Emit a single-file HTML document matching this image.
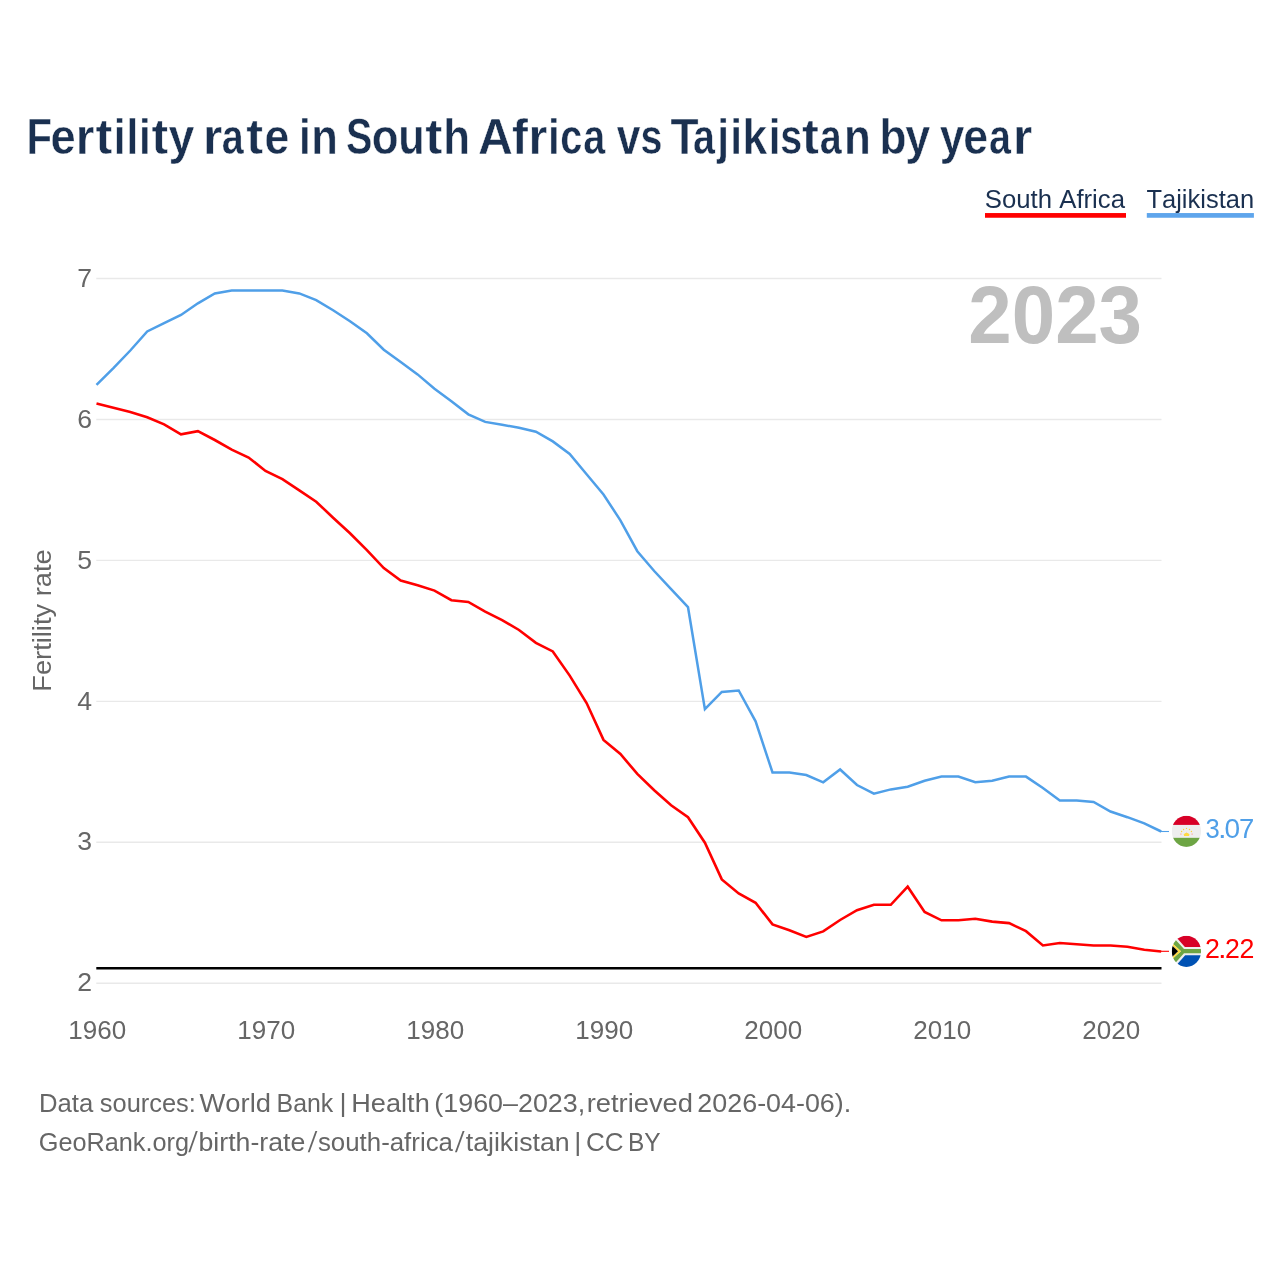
<!DOCTYPE html>
<html lang="en"><head><meta charset="utf-8"><title>Fertility rate in South Africa vs Tajikistan by year</title>
<style>html,body{margin:0;padding:0;background:#fff}body{width:1280px;height:1280px;overflow:hidden;font-family:"Liberation Sans",sans-serif}svg{display:block;will-change:transform}text{font-family:"Liberation Sans",sans-serif;font-kerning:none;font-variant-ligatures:none}</style></head><body>
<svg width="1280" height="1280" viewBox="0 0 1280 1280">
<rect width="1280" height="1280" fill="#ffffff"/>
<g stroke="#e9e9e9" stroke-width="1.4" fill="none">
<line x1="96.3" x2="1161.5" y1="278.5" y2="278.5"/>
<line x1="96.3" x2="1161.5" y1="419.5" y2="419.5"/>
<line x1="96.3" x2="1161.5" y1="560.4" y2="560.4"/>
<line x1="96.3" x2="1161.5" y1="701.4" y2="701.4"/>
<line x1="96.3" x2="1161.5" y1="842.3" y2="842.3"/>
<line x1="96.3" x2="1161.5" y1="983.2" y2="983.2"/>
</g>
<g font-size="26.6" fill="#666666" text-anchor="end">
<text x="92" y="286.6">7</text>
<text x="92" y="427.6">6</text>
<text x="92" y="568.5">5</text>
<text x="92" y="709.5">4</text>
<text x="92" y="850.4">3</text>
<text x="92" y="991.3">2</text>
</g>
<g font-size="26" fill="#666666" text-anchor="middle">
<text x="97.2" y="1039.0">1960</text>
<text x="266.2" y="1039.0">1970</text>
<text x="435.2" y="1039.0">1980</text>
<text x="604.2" y="1039.0">1990</text>
<text x="773.2" y="1039.0">2000</text>
<text x="942.2" y="1039.0">2010</text>
<text x="1111.2" y="1039.0">2020</text>
</g>
<text transform="translate(51.2,691.74) rotate(-90) scale(1.0331,1)" font-size="26.4" fill="#666666">Fertility rate</text>
<line x1="96.3" x2="1161.5" y1="968.2" y2="968.2" stroke="#000" stroke-width="2.6"/>
<polyline points="96.5,384.8 113.4,368.1 130.3,350.5 147.2,331.4 164.1,323.1 181.0,315.0 197.9,303.3 214.8,293.4 231.7,290.5 248.6,290.5 265.5,290.5 282.4,290.5 299.3,293.4 316.2,300.2 333.1,310.3 350.0,321.2 366.9,333.3 383.8,349.7 400.7,361.9 417.6,374.4 434.5,388.8 451.4,401.2 468.3,414.3 485.2,421.9 502.1,424.7 519.0,427.8 535.9,431.7 552.8,441.4 569.7,453.9 586.6,474.2 603.5,494.5 620.4,520.3 637.3,551.2 654.2,571.0 671.1,589.2 688.0,607.2 704.9,709.1 721.8,691.9 738.7,690.5 755.6,721.3 772.5,772.5 789.4,772.5 806.3,775.0 823.2,782.3 840.1,769.5 857.0,785.0 873.9,793.6 890.8,789.4 907.7,786.7 924.6,780.7 941.5,776.6 958.4,776.6 975.3,782.3 992.2,780.8 1009.1,776.6 1026.0,776.6 1042.9,788.0 1059.8,800.5 1076.7,800.5 1093.6,802.0 1110.5,811.5 1127.4,817.2 1144.3,823.4 1161.2,831.5" fill="none" stroke="#4f9fe8" stroke-width="2.5"/>
<polyline points="96.5,403.6 113.4,407.8 130.3,411.9 147.2,417.3 164.1,424.4 181.0,434.4 197.9,431.2 214.8,440.0 231.7,449.7 248.6,457.5 265.5,470.9 282.4,479.1 299.3,490.3 316.2,501.7 333.1,517.7 350.0,533.3 366.9,550.2 383.8,568.1 400.7,580.6 417.6,585.3 434.5,590.6 451.4,600.2 468.3,601.9 485.2,611.6 502.1,620.2 519.0,630.0 535.9,642.8 552.8,651.4 569.7,675.6 586.6,703.0 603.5,739.9 620.4,754.0 637.3,773.9 654.2,790.3 671.1,805.2 688.0,817.2 704.9,842.7 721.8,879.4 738.7,893.4 755.6,902.8 772.5,924.4 789.4,930.2 806.3,936.9 823.2,931.4 840.1,920.0 857.0,910.2 873.9,904.8 890.8,904.8 907.7,886.7 924.6,911.9 941.5,920.3 958.4,920.3 975.3,918.8 992.2,921.6 1009.1,923.1 1026.0,931.2 1042.9,945.5 1059.8,943.0 1076.7,944.2 1093.6,945.5 1110.5,945.5 1127.4,946.7 1144.3,949.8 1161.2,951.5" fill="none" stroke="#ff0000" stroke-width="2.6"/>
<line x1="1161" x2="1169" y1="831.5" y2="831.5" stroke="#4f9fe8" stroke-width="1.1"/>
<line x1="1161" x2="1169" y1="951.3" y2="951.3" stroke="#ff0000" stroke-width="1.1"/>
<rect x="985" y="213.05" width="141" height="4.7" fill="#ff0000"/>
<rect x="1146.8" y="213.05" width="107.1" height="4.7" fill="#5ea5ec"/>
<text transform="translate(968.29,342.8) scale(0.9665,1)" font-size="80.8" font-weight="bold" fill="#bfbfbf">2023</text>
<defs><clipPath id="cf"><circle cx="256" cy="256" r="256"/></clipPath></defs>
<g transform="translate(1171.75,815.70) scale(0.05723,0.06094)"><g clip-path="url(#cf)"><rect width="512" height="512" fill="#eeeeee"/><rect width="512" height="151" fill="#d80027"/><rect y="363" width="512" height="149" fill="#6da544"/><path fill="#ffda44" d="M214 334h90v-30q-10-22-45-24q-35 2-45 24z"/><g fill="#ffd23c"><circle cx="258" cy="208" r="12"/><circle cx="206" cy="225" r="12"/><circle cx="310" cy="225" r="12"/><circle cx="172" cy="258" r="12"/><circle cx="344" cy="258" r="12"/></g><g fill="#fbb9b0"><circle cx="160" cy="302" r="14"/><circle cx="356" cy="302" r="14"/><circle cx="258" cy="272" r="7"/></g></g></g>
<g transform="translate(1171.75,935.70) scale(0.05723,0.06094)"><g clip-path="url(#cf)"><rect width="512" height="512" fill="#eeeeee"/><path fill="#d80027" d="M57 0H512V187H230z"/><path fill="#0052b4" d="M52 512H512V321H235z"/><path fill="#6da544" d="M0 0L214 220H512V289H214L0 512V392L162 254L0 116z"/><path fill="#ffda44" d="M0 116L162 254L0 392V352L110 254L0 156z"/><path fill="#000" d="M0 156L110 254L0 352z"/></g></g>
<polygon points="188.3,1152.2 190.20000000000002,1152.2 197.7,1131 195.79999999999998,1131" fill="#666666"/>
<polygon points="307.7,1152.2 309.59999999999997,1152.2 317.3,1131 315.40000000000003,1131" fill="#666666"/>
<polygon points="454.95,1152.2 456.84999999999997,1152.2 464.55,1131 462.65000000000003,1131" fill="#666666"/>
<g font-size="26.8" fill="#4f9fe8">
<text transform="translate(1205.62,837.9) scale(0.9562,1)">3</text>
<text transform="translate(1218.07,837.9) scale(1.1500,1)">.</text>
<text transform="translate(1224.41,837.9) scale(1.0460,1)">0</text>
<text transform="translate(1239.09,837.9) scale(1.0260,1)">7</text>
</g>
<g font-size="26.8" fill="#ff0000">
<text transform="translate(1204.95,957.9) scale(0.9992,1)">2</text>
<text transform="translate(1218.07,957.9) scale(1.1500,1)">.</text>
<text transform="translate(1224.91,957.9) scale(0.9952,1)">2</text>
<text transform="translate(1239.45,957.9) scale(0.9992,1)">2</text>
</g>
<g font-size="49.3" font-weight="bold" fill="#1a3050" stroke="#fff" stroke-width="0.45">
<text transform="translate(26.60,153.6) scale(0.8476,1)">F</text>
<text transform="translate(50.48,153.6) scale(0.9178,1)">e</text>
<text transform="translate(75.84,153.6) scale(0.9711,1)">r</text>
<text transform="translate(95.38,153.6) scale(1.0254,1)">t</text>
<text transform="translate(113.68,153.6) scale(0.8600,1)">i</text>
<text transform="translate(126.51,153.6) scale(0.8600,1)">l</text>
<text transform="translate(139.08,153.6) scale(0.8600,1)">i</text>
<text transform="translate(151.49,153.6) scale(1.0122,1)">t</text>
<text transform="translate(168.39,153.6) scale(0.9433,1)">y</text>
<text transform="translate(202.99,153.6) scale(1.0040,1)">r</text>
<text transform="translate(221.63,153.6) scale(0.8000,1)">a</text>
<text transform="translate(246.28,153.6) scale(1.0254,1)">t</text>
<text transform="translate(264.51,153.6) scale(0.9031,1)">e</text>
<text transform="translate(298.88,153.6) scale(0.8600,1)">i</text>
<text transform="translate(311.13,153.6) scale(0.8821,1)">n</text>
<text transform="translate(346.05,153.6) scale(0.8000,1)">S</text>
<text transform="translate(371.78,153.6) scale(0.8910,1)">o</text>
<text transform="translate(398.32,153.6) scale(0.8779,1)">u</text>
<text transform="translate(425.37,153.6) scale(1.0451,1)">t</text>
<text transform="translate(443.19,153.6) scale(0.8893,1)">h</text>
<text transform="translate(477.90,153.6) scale(0.9796,1)">A</text>
<text transform="translate(512.08,153.6) scale(0.9699,1)">f</text>
<text transform="translate(528.41,153.6) scale(0.9809,1)">r</text>
<text transform="translate(547.88,153.6) scale(0.8600,1)">i</text>
<text transform="translate(560.35,153.6) scale(0.8046,1)">c</text>
<text transform="translate(583.20,153.6) scale(0.8000,1)">a</text>
<text transform="translate(616.73,153.6) scale(0.8645,1)">v</text>
<text transform="translate(640.40,153.6) scale(0.8000,1)">s</text>
<text transform="translate(670.48,153.6) scale(0.9335,1)">T</text>
<text transform="translate(692.90,153.6) scale(0.8000,1)">a</text>
<text transform="translate(717.23,153.6) scale(0.8600,1)">j</text>
<text transform="translate(730.18,153.6) scale(0.8600,1)">i</text>
<text transform="translate(742.50,153.6) scale(0.9012,1)">k</text>
<text transform="translate(768.68,153.6) scale(0.8600,1)">i</text>
<text transform="translate(780.27,153.6) scale(0.8000,1)">s</text>
<text transform="translate(801.88,153.6) scale(1.0254,1)">t</text>
<text transform="translate(819.70,153.6) scale(0.8000,1)">a</text>
<text transform="translate(844.01,153.6) scale(0.8905,1)">n</text>
<text transform="translate(879.59,153.6) scale(0.8956,1)">b</text>
<text transform="translate(905.25,153.6) scale(0.9115,1)">y</text>
<text transform="translate(939.65,153.6) scale(0.8966,1)">y</text>
<text transform="translate(963.25,153.6) scale(0.9073,1)">e</text>
<text transform="translate(988.93,153.6) scale(0.8000,1)">a</text>
<text transform="translate(1012.99,153.6) scale(1.0040,1)">r</text>
</g>
<text transform="translate(984.83,207.6) scale(0.9754,1)" font-size="26.4" fill="#1a3050">South Africa</text>
<text transform="translate(1146.43,207.6) scale(0.9661,1)" font-size="26.4" fill="#1a3050">Tajikistan</text>
<text transform="translate(38.89,1111.6) scale(0.9739,1)" font-size="26.4" fill="#666666">Data</text>
<text transform="translate(99.79,1111.6) scale(0.9635,1)" font-size="26.4" fill="#666666">sources:</text>
<text transform="translate(199.48,1111.6) scale(1.0369,1)" font-size="26.4" fill="#666666">World</text>
<text transform="translate(276.56,1111.6) scale(0.9423,1)" font-size="26.4" fill="#666666">Bank</text>
<text transform="translate(339.57,1111.6) scale(1.0281,1)" font-size="26.4" fill="#666666">|</text>
<text transform="translate(351.27,1111.6) scale(1.0285,1)" font-size="26.4" fill="#666666">Health</text>
<text transform="translate(434.33,1111.6) scale(1.0176,1)" font-size="26.4" fill="#666666">(1960–2023,</text>
<text transform="translate(586.68,1111.6) scale(1.0357,1)" font-size="26.4" fill="#666666">retrieved</text>
<text transform="translate(697.35,1111.6) scale(1.0188,1)" font-size="26.4" fill="#666666">2026-04-06).</text>
<text transform="translate(38.73,1150.5) scale(0.9578,1)" font-size="26.4" fill="#666666">GeoRank.org</text>
<text transform="translate(198.48,1150.5) scale(1.0111,1)" font-size="26.4" fill="#666666">birth-rate</text>
<text transform="translate(317.88,1150.5) scale(0.9796,1)" font-size="26.4" fill="#666666">south-africa</text>
<text transform="translate(465.70,1150.5) scale(1.0129,1)" font-size="26.4" fill="#666666">tajikistan</text>
<text transform="translate(574.37,1150.5) scale(1.0281,1)" font-size="26.4" fill="#666666">|</text>
<text transform="translate(585.88,1150.5) scale(0.9865,1)" font-size="26.4" fill="#666666">CC</text>
<text transform="translate(627.89,1150.5) scale(0.9270,1)" font-size="26.4" fill="#666666">BY</text>
</svg></body></html>
